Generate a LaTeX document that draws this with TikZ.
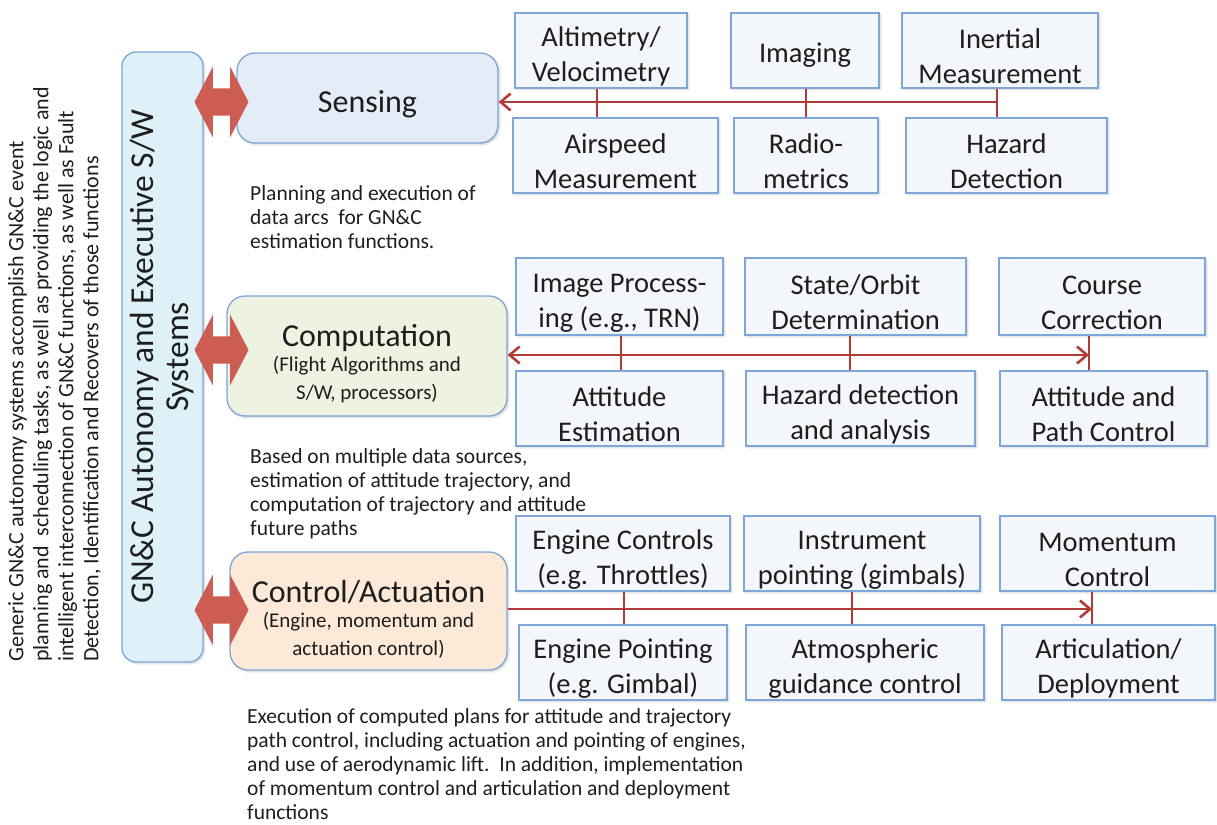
\documentclass[tikz,border=0pt]{standalone}
\usepackage{fontspec}
\setmainfont{Carlito}
\usetikzlibrary{arrows.meta, positioning, shapes.arrows, shadows.blur, calc}
\definecolor{boxblue}{HTML}{7EA6D8}
\definecolor{fnfill}{HTML}{F3F6FA}
\definecolor{sensfill}{HTML}{E4ECF7}
\definecolor{compfill}{HTML}{EEF2E1}
\definecolor{ctrlfill}{HTML}{FCE9D8}
\definecolor{gncfill}{HTML}{DFF1F8}
\definecolor{busred}{HTML}{B03C38}
\definecolor{arrowred}{HTML}{CD5C52}
\definecolor{txtgray}{HTML}{1E1E1E}
\newcommand{\boxfont}{\fontsize{28.5}{35}\selectfont}
\newcommand{\titlefont}{\fontsize{32}{28}\selectfont}
\newcommand{\subfont}{\fontsize{21}{28.5}\selectfont}
\newcommand{\lift}[1]{\rule{0pt}{#1pt}}
\tikzset{
  fnbox/.style={
    rectangle, draw=boxblue, line width=1.3pt, fill=fnfill,
    minimum height=75pt, inner sep=0pt, align=center, text=txtgray,
    font=\boxfont,
    blur shadow={shadow xshift=1.5pt, shadow yshift=-1.5pt, shadow blur steps=4, shadow opacity=20}
  },
  stagebox/.style={
    rectangle, rounded corners=18pt, draw=boxblue, line width=1.3pt,
    inner sep=0pt, align=center, text=txtgray, font=\titlefont,
    blur shadow={shadow xshift=1.5pt, shadow yshift=-1.5pt, shadow blur steps=4, shadow opacity=20}
  },
  bus/.style={draw=busred, line width=2.6pt},
  tip/.style={-{Straight Barb[length=10pt, width=17pt]}},
  fatarrow/.style={
    double arrow, fill=arrowred, draw=none, inner xsep=0pt, inner ysep=13.5pt,
    minimum width=70pt, minimum height=54pt,
    double arrow head extend=21.5pt, double arrow tip angle=125
  },
  note/.style={anchor=north west, align=left, inner sep=0pt, text=txtgray,
    font=\fontsize{21.5}{24}\selectfont}
}
\begin{document}
\begin{tikzpicture}[x=1pt, y=-1pt]
\useasboundingbox (0,0) rectangle (1217,824);

% Executive system column
\node[stagebox, fill=gncfill, rotate=90, rounded corners=14pt,
      minimum width=610pt, minimum height=81pt, font=\fontsize{33.5}{35}\selectfont]
      (gnc) at (162.5,357) {GN\&C Autonomy and Executive S/W\\Systems};
\node[rotate=90, anchor=north west, align=left, inner sep=0pt, text=txtgray,
      font=\fontsize{22}{25}\selectfont] (about) at (8,662)
      {Generic GN\&C autonomy systems accomplish GN\&C event\\
       planning and\ \ scheduling tasks, as well as providing the logic and\\
       intelligent interconnection of GN\&C functions, as well as Fault\\
       Detection, Identification and Recovers of those functions};

% Stages
\node[stagebox, fill=sensfill, minimum width=261pt, minimum height=90pt] (sens) at (367.5,98)
      {\lift{35}Sensing};
\node[stagebox, fill=compfill, minimum width=280pt, minimum height=120pt] (comp) at (367,356)
      {\lift{37}Computation\\[-3pt]{\subfont (Flight Algorithms and}\\{\subfont S/W, processors)}};
\node[stagebox, fill=ctrlfill, minimum width=277pt, minimum height=118pt] (ctrl) at (368.5,611)
      {\lift{38}Control/Actuation\\[-3pt]{\subfont (Engine, momentum and}\\{\subfont actuation control)}};

% Fat links to the executive
\node[fatarrow] (fa1) at (221.5,102) {};
\node[fatarrow] (fa2) at (221.5,350) {};
\node[fatarrow] (fa3) at (221.5,610) {};

% Sensing functions
\node[fnbox, minimum width=172pt] (alt) at (601,50.5) {\lift{31}Altimetry/\\Velocimetry};
\node[fnbox, minimum width=148pt] (img) at (805,50.5) {\lift{29}Imaging};
\node[fnbox, minimum width=196pt] (inr) at (1000,50.5) {\lift{31}Inertial\\Measurement};
\node[fnbox, minimum width=205pt] (air) at (615.5,155.5) {\lift{31}Airspeed\\Measurement};
\node[fnbox, minimum width=144pt] (rad) at (806,155.5) {\lift{31}Radio-\\metrics};
\node[fnbox, minimum width=201pt] (haz) at (1006.5,155.5) {\lift{31}Hazard\\Detection};

% Computation functions
\node[fnbox, minimum width=207pt, minimum height=77pt] (imp) at (619.5,296.5) {\lift{31}Image Process-\\ing (e.g., TRN)};
\node[fnbox, minimum width=221pt, minimum height=77pt] (ste) at (855.5,296.5) {\lift{31}State/Orbit\\Determination};
\node[fnbox, minimum width=206pt, minimum height=77pt] (crs) at (1102,296.5) {\lift{31}Course\\Correction};
\node[fnbox, minimum width=207pt] (att) at (619.5,408.5) {\lift{31}Attitude\\Estimation};
\node[fnbox, minimum width=229pt] (hzd) at (860.5,408.5) {\lift{31}Hazard detection\\and analysis};
\node[fnbox, minimum width=207pt] (atp) at (1103.5,408.5) {\lift{31}Attitude and\\Path Control};

% Control functions
\node[fnbox, minimum width=214pt] (eng) at (623,553.5) {\lift{31}Engine Controls\\(e.g. Throttles)};
\node[fnbox, minimum width=236pt] (ins) at (862,553.5) {\lift{31}Instrument\\pointing (gimbals)};
\node[fnbox, minimum width=215pt] (mom) at (1107.5,553.5) {\lift{31}Momentum\\Control};
\node[fnbox, minimum width=208pt] (epn) at (623,662.5) {\lift{31}Engine Pointing\\(e.g. Gimbal)};
\node[fnbox, minimum width=238pt] (atm) at (865,662.5) {\lift{31}Atmospheric\\guidance control};
\node[fnbox, minimum width=213pt] (art) at (1108.5,662.5) {\lift{31}Articulation/\\Deployment};

% Buses
\coordinate (s1) at (597,102);  \coordinate (s2) at (806,102);  \coordinate (s3) at (997,102);
\coordinate (c1) at (621,355);  \coordinate (c2) at (850,355);  \coordinate (c3) at (1089,355);
\coordinate (a1) at (624,609);  \coordinate (a2) at (852,609);  \coordinate (a3) at (1092,609);

\draw[bus, tip] (s3) -- (sens.east |- s3);
\draw[bus, tip] (c1) -- (comp.east |- c1);
\draw[bus, tip] (c1) -- (c3);
\draw[bus, tip] (ctrl.east |- a1) -- (a3);
\foreach \c/\t/\b in {s1/alt/air, s2/img/rad, s3/inr/haz,
                      c1/imp/att, c2/ste/hzd, c3/crs/atp,
                      a1/eng/epn, a2/ins/atm, a3/mom/art}
  \draw[bus] (\c |- \t.south) -- (\c |- \b.north);

% Notes
\node[note] (nsens) at (250,185) {Planning and execution of\\data arcs\ \ for GN\&C\\estimation functions.};
\node[note] (ncomp) at (250,448) {Based on multiple data sources,\\estimation of attitude trajectory, and\\computation of trajectory and attitude\\future paths};
\node[note] (nctrl) at (247,708) {Execution of computed plans for attitude and trajectory\\path control, including actuation and pointing of engines,\\and use of aerodynamic lift.\ \ In addition, implementation\\of momentum control and articulation and deployment\\functions};

\end{tikzpicture}
\end{document}
